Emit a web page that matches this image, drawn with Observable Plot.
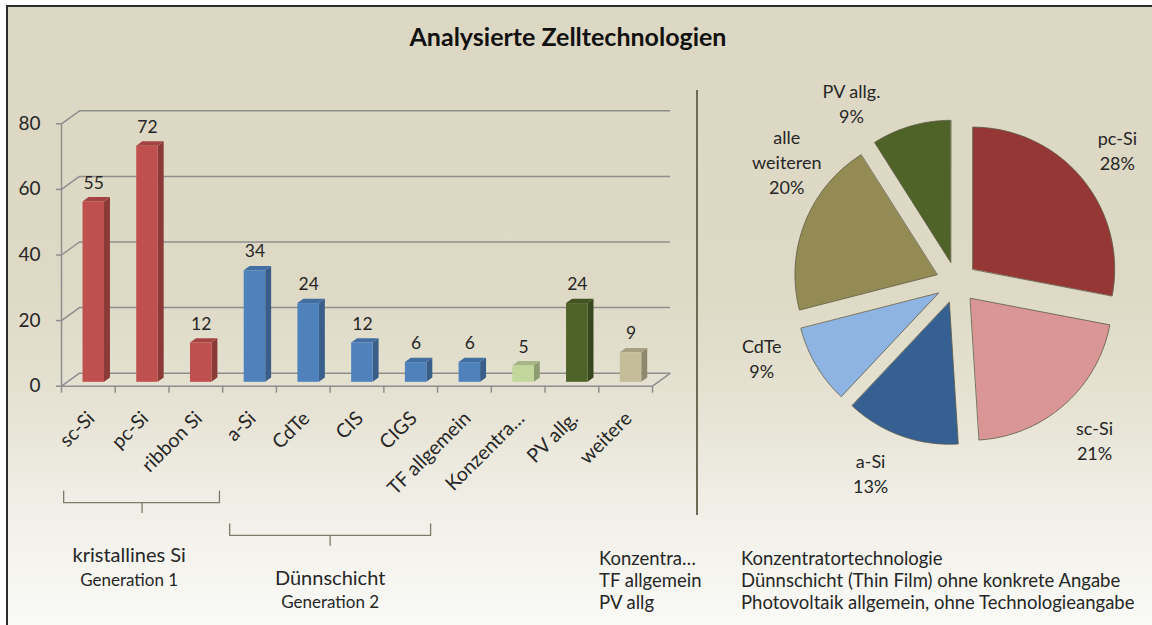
<!DOCTYPE html>
<html><head><meta charset="utf-8">
<script src="https://cdn.jsdelivr.net/npm/d3@7"></script>
<script src="https://cdn.jsdelivr.net/npm/@observablehq/plot@0.6"></script>
<style>
html,body{margin:0;padding:0;background:#fff;}
#wrap{position:relative;width:1152px;height:625px;overflow:hidden;font-family:Lato,"Open Sans",sans-serif;color:#262626;}
#bg{position:absolute;left:6px;top:5px;right:0;bottom:0;border-left:2px solid #2b2b2b;border-top:2px solid #2b2b2b;
 background:linear-gradient(to bottom,#ddd8c3 0%,#ddd9c4 45%,#e6e3d4 65%,#f0eee6 80%,#fafaf7 100%);}
#title{position:absolute;left:0;top:21px;width:1136px;text-align:center;font-size:25px;font-weight:bold;line-height:30px;color:#111;}
#sep{position:absolute;left:696px;top:90px;width:2px;height:425px;background:#6e6a55;}
#bars{position:absolute;left:0;top:0;}
#pie{position:absolute;left:700px;top:60px;}
.note{position:absolute;font-size:18.5px;line-height:22px;white-space:nowrap;}
</style></head><body>
<div id="wrap">
 <div id="bg"></div>
 <div id="title">Analysierte Zelltechnologien</div>
 <div id="sep"></div>
 <div id="bars"></div>
 <div id="pie"></div>
 <div id="notes"></div>
</div>
<script>
// ---- data ----
const categories = ["sc-Si","pc-Si","ribbon Si","a-Si","CdTe","CIS","CIGS","TF allgemein","Konzentra…","PV allg.","weitere"];
const counts = [55,72,12,34,24,12,6,6,5,24,9];
const barColors = ["#c0504d","#c0504d","#c0504d","#4f81bd","#4f81bd","#4f81bd","#4f81bd","#4f81bd","#c3d69b","#4f6228","#c4bd97"];
const yTicks = [0,20,40,60,80];
const groupNames = ["kristallines Si","Dünnschicht"];
const groupSubs = ["Generation 1","Generation 2"];
const groupStart = [0,3];
const groupEnd = [3,7];
const pieLabels = ["pc-Si","sc-Si","a-Si","CdTe","alle\nweiteren","PV allg."];
const pieShares = [28,21,13,9,20,9];
const pieColors = ["#953735","#d99694","#376092","#8eb4e3","#948a54","#4f6228"];
const noteAbbr = ["Konzentra…","TF allgemein","PV allg"];
const noteText = ["Konzentratortechnologie","Dünnschicht (Thin Film) ohne konkrete Angabe","Photovoltaik allgemein, ohne Technologieangabe"];

// ---- layout (not data) ----
const D = {x:0.335, y:3.96};          // 3D depth of the floor in data units
const bw = 0.4, bo = 0.3, bd = 0.33;  // bar width, bar offset in depth, bar depth
const bracketLayout = [
  {top:-32, mid:-35.5, tip:-38.5, in0:0.04, in1:0.06, lab:-51.6, sub:-59.2, dxu:-0.24},
  {top:-42, mid:-45.5, tip:-48.5, in0:0.13, in1:0.13, lab:-58.6, sub:-66.0, dxu:0}
];
const gridColor = "#8e8e8e";
const font = "Lato, 'Open Sans', sans-serif";

// ---- bar chart ----
const bars = categories.map((c,i)=>{
  const x1 = i+0.5-bw/2+bo*D.x, x2 = x1+bw, yb = bo*D.y, yt = counts[i]+bo*D.y;
  const col = d3.color(barColors[i]);
  return {i,c,v:counts[i],x1,x2,yb,yt,front:barColors[i],side:col.darker(0.9).formatHex(),top:col.darker(0.45).formatHex()};
});
const ddx = bd*D.x, ddy = bd*D.y;
const sidePts = bars.flatMap(b=>[
  {i:b.i,x:b.x2,y1:b.yb,y2:b.yt,fill:b.side},
  {i:b.i,x:b.x2+ddx,y1:b.yb+ddy,y2:b.yt+ddy,fill:b.side}]);
const topPts = bars.flatMap(b=>[
  {i:b.i,x:b.x1,y1:b.yt,y2:b.yt,fill:b.top},
  {i:b.i,x:b.x1+ddx,y1:b.yt,y2:b.yt+ddy,fill:b.top},
  {i:b.i,x:b.x2,y1:b.yt,y2:b.yt+ddy,fill:b.top},
  {i:b.i,x:b.x2+ddx,y1:b.yt+ddy,y2:b.yt+ddy,fill:b.top}]);

const brackets = groupNames.flatMap((g,k)=>{
  const L = bracketLayout[k], a = groupStart[k]+L.in0, b = groupEnd[k]-L.in1, m = (groupStart[k]+groupEnd[k])/2;
  return [[a,L.top],[a,L.mid],[m,L.mid],[m,L.tip],[m,L.mid],[b,L.mid],[b,L.top]].map(([x,y])=>({g:k,x,y}));
});
const groupText = groupNames.flatMap((g,k)=>{
  const L = bracketLayout[k], m = (groupStart[k]+groupEnd[k])/2 + L.dxu;
  return [{x:m,y:L.lab,t:g,s:20},{x:m,y:L.sub,t:groupSubs[k],s:17}];
});

const n = categories.length;
const barPlot = Plot.plot({
  width:700, height:625,
  marginLeft:61, marginRight:48, marginTop:123.3, marginBottom:239.3,
  x:{domain:[0,n]}, y:{domain:[0,80]},
  color:{type:"identity"},
  style:{fontFamily:font, background:"transparent", overflow:"visible", color:"#262626"},
  marks:[
    Plot.ruleY(yTicks,{y:d=>d+D.y, x1:D.x, x2:n+D.x, stroke:gridColor, strokeWidth:1.5}),
    Plot.link(yTicks,{x1:0, y1:d=>d, x2:D.x, y2:d=>d+D.y, stroke:gridColor, strokeWidth:1.5}),
    Plot.link([0],{x1:n, y1:0, x2:n+D.x, y2:D.y, stroke:gridColor, strokeWidth:1.5}),
    Plot.ruleX([0],{y1:0,y2:80, stroke:gridColor, strokeWidth:1.5}),
    Plot.ruleY([0],{x1:0,x2:n, stroke:gridColor, strokeWidth:1.5}),
    Plot.axisY(yTicks,{tickSize:5, tickPadding:16, fontSize:19, stroke:gridColor, strokeWidth:1.5, label:null}),
    Plot.axisX(d3.range(n+1),{tickSize:7, tickFormat:()=>"", stroke:gridColor, strokeWidth:1.5, label:null}),
    Plot.axisX(categories.map((_,i)=>i+0.5),{tickSize:0, tickRotate:-45, tickPadding:29, dx:3, fontSize:19.5, label:null, tickFormat:d=>categories[Math.floor(d)]}),
    Plot.area(sidePts,{x1:"x", y1:"y1", y2:"y2", z:"i", fill:"fill"}),
    Plot.area(topPts,{x1:"x", y1:"y1", y2:"y2", z:"i", fill:"fill"}),
    Plot.rect(bars,{x1:"x1", x2:"x2", y1:"yb", y2:"yt", fill:"front"}),
    Plot.text(bars,{x:b=>(b.x1+b.x2)/2, y:"yt", dy:-19, text:"v", fontSize:17.5, fill:"#262626"}),
    Plot.line(brackets,{x:"x", y:"y", z:"g", stroke:"#7d7a68", strokeWidth:1.3}),
    Plot.text(groupText,{x:"x", y:"y", text:"t", fontSize:"s", fill:"#262626"})
  ]
});
document.getElementById("bars").appendChild(barPlot);

// ---- pie chart ----
const R = 142;                    // px per unit radius
const cx = 256, cy = 222, PW = 452, PH = 470;
const explode = 21/R;
const labelShift = [0,0,4.5,9.5,14,-14];
const labelR = 1.47;
const arcs = d3.pie().sort(null).value(d=>d)(pieShares);
const slicePts = arcs.map((a,k)=>{
  const bis = (a.startAngle+a.endAngle)/2, ox = explode*Math.sin(bis), oy = explode*Math.cos(bis);
  const pts = [{x:ox,y:oy}];
  const steps = 60;
  for(let s=0;s<=steps;s++){const t=a.startAngle+(a.endAngle-a.startAngle)*s/steps; pts.push({x:ox+Math.sin(t), y:oy+Math.cos(t)});}
  return pts;
});
const pieText = arcs.map((a,k)=>{
  const ang = (a.startAngle+a.endAngle)/2 + labelShift[k]*Math.PI/180;
  return {x:labelR*Math.sin(ang), y:labelR*Math.cos(ang), t:pieLabels[k]+"\n"+pieShares[k]+"%"};
});
const piePlot = Plot.plot({
  width:PW, height:PH, margin:0,
  x:{domain:[-cx/R,(PW-cx)/R], axis:null},
  y:{domain:[-(PH-cy)/R, cy/R], axis:null},
  style:{fontFamily:font, background:"transparent", overflow:"visible", color:"#262626"},
  marks:[
    ...slicePts.map((pts,k)=>Plot.line(pts,{x:"x", y:"y", curve:"linear-closed", fill:pieColors[k], stroke:"#5d5a48", strokeWidth:0.8})),
    Plot.text(pieText,{x:"x", y:"y", text:"t", fontSize:18, lineHeight:1.4, fill:"#262626"})
  ]
});
document.getElementById("pie").appendChild(piePlot);

// ---- notes ----
const notes = document.getElementById("notes");
noteAbbr.forEach((a,k)=>{
  const d1=document.createElement("div"); d1.className="note"; d1.style.left="599px"; d1.style.top=(547+k*22)+"px"; d1.textContent=a; notes.appendChild(d1);
  const d2=document.createElement("div"); d2.className="note"; d2.style.left="741px"; d2.style.top=(547+k*22)+"px"; d2.textContent=noteText[k]; notes.appendChild(d2);
});
</script>
</body></html>
